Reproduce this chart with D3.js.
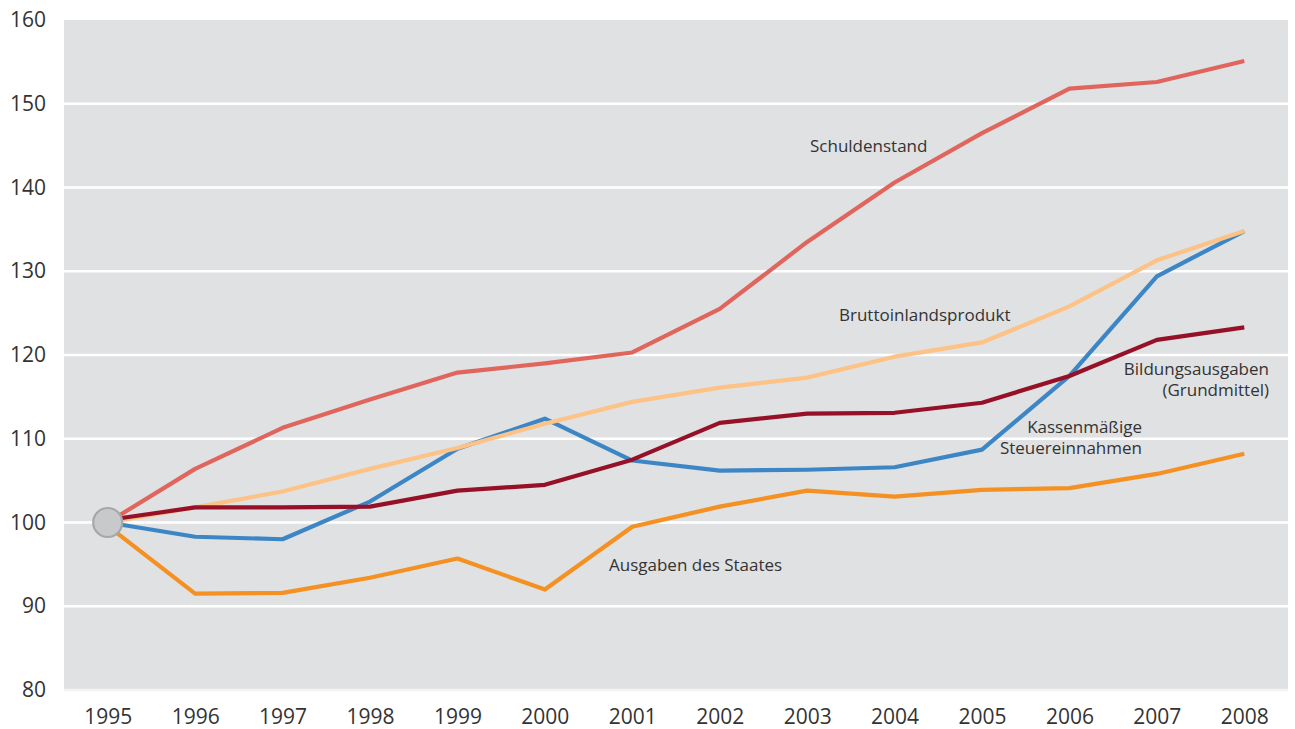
<!DOCTYPE html>
<html>
<head>
<meta charset="utf-8">
<script src="https://cdn.jsdelivr.net/npm/d3@7"></script>
<style>
  html, body { margin: 0; padding: 0; background: #fff; }
  svg { display: block; font-family: "Open Sans", sans-serif; }
</style>
</head>
<body>
<div id="chart"></div>
<script>
// Index 1995 = 100
const years = [1995, 1996, 1997, 1998, 1999, 2000, 2001, 2002, 2003, 2004, 2005, 2006, 2007, 2008];
const yTicks = [80, 90, 100, 110, 120, 130, 140, 150, 160];

const schuldenstand = [100, 106.4, 111.3, 114.7, 117.9, 119.0, 120.3, 125.5, 133.5, 140.6, 146.5, 151.8, 152.6, 155.1];
const bip = [100, 101.8, 103.7, 106.4, 108.9, 111.8, 114.4, 116.1, 117.3, 119.8, 121.5, 125.8, 131.3, 134.8];
const bildung = [100.3, 101.8, 101.8, 101.9, 103.8, 104.5, 107.5, 111.9, 113.0, 113.1, 114.3, 117.5, 121.8, 123.3];
const steuern = [100, 98.3, 98.0, 102.5, 108.8, 112.4, 107.4, 106.2, 106.3, 106.6, 108.7, 117.5, 129.4, 134.8];
const ausgaben = [99.6, 91.5, 91.6, 93.4, 95.7, 92.0, 99.5, 101.9, 103.8, 103.1, 103.9, 104.1, 105.8, 108.2];

// drawing order: bottom first
const series = [
  { name: "steuern", values: steuern, color: "#3d86c6" },
  { name: "ausgaben", values: ausgaben, color: "#f59022" },
  { name: "bip", values: bip, color: "#fdc285" },
  { name: "bildung", values: bildung, color: "#961128" },
  { name: "schulden", values: schuldenstand, color: "#e0655d" }
];

const labels = [
  { lines: ["Schuldenstand"], x: 810, y: 152, anchor: "start" },
  { lines: ["Bruttoinlandsprodukt"], x: 839, y: 321, anchor: "start" },
  { lines: ["Bildungsausgaben", "(Grundmittel)"], x: 1269, y: 375, anchor: "end" },
  { lines: ["Kassenmäßige", "Steuereinnahmen"], x: 1142, y: 433, anchor: "end" },
  { lines: ["Ausgaben des Staates"], x: 609, y: 571, anchor: "start" }
];

const width = 1295, height = 729;
const plot = { left: 64, right: 1288, top: 20, bottom: 690 };

const svg = d3.select("#chart").append("svg")
  .attr("width", width)
  .attr("height", height);

const x = d3.scalePoint()
  .domain(years)
  .range([plot.left, plot.right])
  .padding(0.5);

const y = d3.scaleLinear()
  .domain([80, 160])
  .range([plot.bottom, plot.top]);

// background
svg.append("rect")
  .attr("x", plot.left)
  .attr("y", plot.top)
  .attr("width", plot.right - plot.left)
  .attr("height", plot.bottom - plot.top)
  .attr("fill", "#e0e1e3");

// gridlines
svg.append("g")
  .selectAll("line")
  .data(yTicks.filter(d => d < 160))
  .join("line")
  .attr("x1", plot.left)
  .attr("x2", plot.right)
  .attr("y1", d => y(d))
  .attr("y2", d => y(d))
  .attr("stroke", d => d === 80 ? "#f3f3f4" : "#ffffff")
  .attr("stroke-width", 2.5);

// y axis labels
const yAxis = svg.append("g")
  .attr("transform", `translate(${plot.left},0)`)
  .call(d3.axisLeft(y).tickValues(yTicks).tickSize(0).tickPadding(18));
yAxis.select(".domain").remove();
yAxis.selectAll("text")
  .attr("font-size", 21)
  .attr("font-family", "Open Sans, sans-serif")
  .attr("fill", "#333");

// x axis labels
const xAxis = svg.append("g")
  .attr("transform", `translate(0,${plot.bottom})`)
  .call(d3.axisBottom(x).tickSize(0).tickPadding(19));
xAxis.select(".domain").remove();
xAxis.selectAll("text")
  .attr("font-size", 21)
  .attr("font-family", "Open Sans, sans-serif")
  .attr("fill", "#333");

// lines
const line = d3.line()
  .x((d, i) => x(years[i]))
  .y(d => y(d));

svg.append("g")
  .selectAll("path")
  .data(series)
  .join("path")
  .attr("d", d => line(d.values))
  .attr("fill", "none")
  .attr("stroke", d => d.color)
  .attr("stroke-width", 4.2)
  .attr("stroke-linejoin", "round");

// base point marker
svg.append("circle")
  .attr("cx", x(1995))
  .attr("cy", y(100))
  .attr("r", 14.5)
  .attr("fill", "#c8c9cb")
  .attr("stroke", "#a6a7a9")
  .attr("stroke-width", 2.2);

// series labels
const lbl = svg.append("g")
  .attr("font-size", 17)
  .attr("fill", "#333");
labels.forEach(l => {
  const t = lbl.append("text")
    .attr("x", l.x)
    .attr("y", l.y)
    .attr("text-anchor", l.anchor);
  l.lines.forEach((s, i) => {
    t.append("tspan")
      .attr("x", l.x)
      .attr("dy", i === 0 ? 0 : 21)
      .text(s);
  });
});
</script>
</body>
</html>
